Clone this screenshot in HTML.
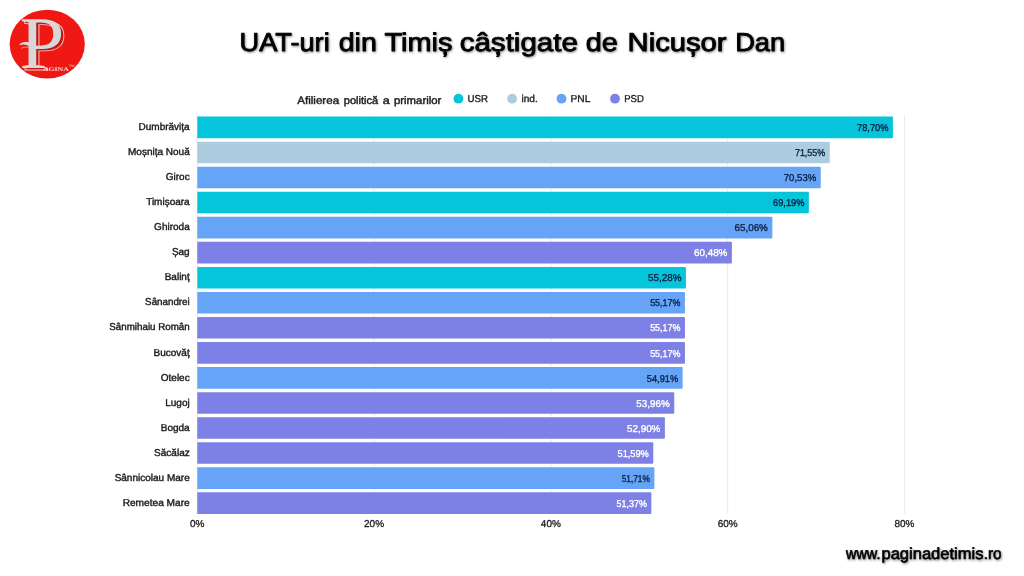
<!DOCTYPE html>
<html lang="ro">
<head>
<meta charset="utf-8">
<title>UAT-uri din Timiș câștigate de Nicușor Dan</title>
<style>
html,body{margin:0;padding:0;background:#fff;}
body{width:1024px;height:576px;overflow:hidden;font-family:"Liberation Sans",sans-serif;}
svg{display:block;}
text{font-family:"Liberation Sans",sans-serif;text-rendering:geometricPrecision;}
.title{font-size:25.8px;fill:#000;stroke:#000;stroke-width:0.85px;stroke-linejoin:round;stroke-linecap:round;}
.lt{font-size:10.8px;fill:#1c1c1c;stroke:#1c1c1c;stroke-width:0.45px;stroke-linejoin:round;}
.lg{font-size:10px;fill:#1c1c1c;stroke:#1c1c1c;stroke-width:0.35px;}
.lab{font-size:10px;fill:#1b1b1b;stroke:#1b1b1b;stroke-width:0.4px;text-anchor:end;}
.val{font-size:9.9px;text-anchor:end;stroke-width:0.35px;}
.vd{fill:#0c2245;stroke:#0c2245;}
.vw{fill:#fff;stroke:#fff;}
.ax{font-size:10px;fill:#1b1b1b;stroke:#1b1b1b;stroke-width:0.3px;text-anchor:middle;}
.foot{font-size:16.3px;fill:#000;stroke:#000;stroke-width:0.65px;stroke-linejoin:round;}
.serif{font-family:"Liberation Serif",serif;}
</style>
</head>
<body>
<svg width="1024" height="576" viewBox="0 0 1024 576">
<defs>
<filter id="sh" x="-5%" y="-30%" width="110%" height="170%"><feDropShadow dx="0.8" dy="1" stdDeviation="1" flood-color="#000" flood-opacity="0.45"/></filter>
<filter id="sh2" x="-5%" y="-30%" width="110%" height="170%"><feDropShadow dx="0.8" dy="1.1" stdDeviation="0.9" flood-color="#000" flood-opacity="0.5"/></filter>
</defs>
<rect width="1024" height="576" fill="#fff"/>
<g id="logo">
<ellipse cx="47.25" cy="44.1" rx="37.6" ry="34.4" fill="#f01812"/>
<path d="M30.4 47.9C26.6 46.6 23.4 46.9 21 48.4" fill="none" stroke="#f2c2c2" stroke-width="0.7"/>
<text class="serif" x="0" y="0" transform="translate(22.2 70.1) scale(1.085 1)" font-size="74.3" fill="#c91414" stroke="#f2c2c2" stroke-width="0.85">P</text>
<path d="M29 42.4C24.6 41.3 21.2 42 18.8 45.2C21.6 44.1 24.8 44.3 29 45.9Z" fill="#dedede"/>
<text class="serif" x="0" y="0" transform="translate(19.4 67.7) scale(1.085 1)" font-size="74.3" fill="#d8d8d8">P</text>
<text class="serif" x="43" y="70.75" font-size="5.7" font-weight="bold" fill="#f6dcdc" textLength="25.8" lengthAdjust="spacingAndGlyphs">AGINA</text>
<text class="serif" x="68.9" y="66.6" font-size="3.4" font-weight="bold" fill="#f3b0a8">TM</text>
</g>
<text class="title" y="51.0" filter="url(#sh)"><tspan x="239.60" textLength="90.10" lengthAdjust="spacingAndGlyphs">UAT-uri</tspan> <tspan x="338.70" textLength="38.20" lengthAdjust="spacingAndGlyphs">din</tspan> <tspan x="384.50" textLength="67.80" lengthAdjust="spacingAndGlyphs">Timiș</tspan> <tspan x="459.70" textLength="118.20" lengthAdjust="spacingAndGlyphs">câștigate</tspan> <tspan x="585.70" textLength="32.10" lengthAdjust="spacingAndGlyphs">de</tspan> <tspan x="627.60" textLength="99.00" lengthAdjust="spacingAndGlyphs">Nicușor</tspan> <tspan x="735.20" textLength="50.00" lengthAdjust="spacingAndGlyphs">Dan</tspan></text>
<text class="lt" y="104.0"><tspan x="297.25" textLength="41.85" lengthAdjust="spacingAndGlyphs">Afilierea</tspan> <tspan x="343.75" textLength="34.35" lengthAdjust="spacingAndGlyphs">politică</tspan> <tspan x="382.75" textLength="7.00" lengthAdjust="spacingAndGlyphs">a</tspan> <tspan x="394.00" textLength="47.30" lengthAdjust="spacingAndGlyphs">primarilor</tspan></text>
<circle cx="458.4" cy="98.7" r="4.9" fill="#06c5da"/><text class="lg" x="467.6" y="102.3" textLength="20.5" lengthAdjust="spacingAndGlyphs">USR</text>
<circle cx="512.1" cy="98.7" r="4.9" fill="#accde0"/><text class="lg" x="521.4" y="102.3" textLength="16.3" lengthAdjust="spacingAndGlyphs">ind.</text>
<circle cx="561.5" cy="98.7" r="4.9" fill="#66a4f7"/><text class="lg" x="570.5" y="102.3" textLength="19.8" lengthAdjust="spacingAndGlyphs">PNL</text>
<circle cx="615.0" cy="98.7" r="4.9" fill="#7d80e4"/><text class="lg" x="624.2" y="102.3" textLength="19.6" lengthAdjust="spacingAndGlyphs">PSD</text>
<rect x="196.80" y="115.5" width="1" height="398" fill="#e9e9e9"/>
<rect x="373.58" y="115.5" width="1" height="398" fill="#e9e9e9"/>
<rect x="550.36" y="115.5" width="1" height="398" fill="#e9e9e9"/>
<rect x="727.14" y="115.5" width="1" height="398" fill="#e9e9e9"/>
<rect x="903.92" y="115.5" width="1" height="398" fill="#e9e9e9"/>
<path d="M197.30 116.60H891.93Q892.93 116.60 892.93 117.60V137.20Q892.93 138.20 891.93 138.20H197.30Z" fill="#06c5da"/>
<text class="lab" x="189.7" y="129.95" textLength="51.14" lengthAdjust="spacingAndGlyphs">Dumbrăvița</text>
<text class="val vd" x="888.43" y="131.05" textLength="31.4" lengthAdjust="spacingAndGlyphs">78,70%</text>
<path d="M197.30 141.65H828.73Q829.73 141.65 829.73 142.65V162.25Q829.73 163.25 828.73 163.25H197.30Z" fill="#accde0"/>
<text class="lab" x="189.7" y="155.02" textLength="61.70" lengthAdjust="spacingAndGlyphs">Moșnița Nouă</text>
<text class="val vd" x="825.23" y="156.10" textLength="30.3" lengthAdjust="spacingAndGlyphs">71,55%</text>
<path d="M197.30 166.70H819.71Q820.71 166.70 820.71 167.70V187.30Q820.71 188.30 819.71 188.30H197.30Z" fill="#66a4f7"/>
<text class="lab" x="189.7" y="180.08" textLength="23.91" lengthAdjust="spacingAndGlyphs">Giroc</text>
<text class="val vd" x="816.21" y="181.15" textLength="32.4" lengthAdjust="spacingAndGlyphs">70,53%</text>
<path d="M197.30 191.75H807.87Q808.87 191.75 808.87 192.75V212.35Q808.87 213.35 807.87 213.35H197.30Z" fill="#06c5da"/>
<text class="lab" x="189.7" y="205.15" textLength="43.53" lengthAdjust="spacingAndGlyphs">Timișoara</text>
<text class="val vd" x="804.37" y="206.20" textLength="31.3" lengthAdjust="spacingAndGlyphs">69,19%</text>
<path d="M197.30 216.80H771.37Q772.37 216.80 772.37 217.80V237.40Q772.37 238.40 771.37 238.40H197.30Z" fill="#66a4f7"/>
<text class="lab" x="189.7" y="230.21" textLength="35.58" lengthAdjust="spacingAndGlyphs">Ghiroda</text>
<text class="val vd" x="767.87" y="231.25" textLength="33.4" lengthAdjust="spacingAndGlyphs">65,06%</text>
<path d="M197.30 241.85H730.88Q731.88 241.85 731.88 242.85V262.45Q731.88 263.45 730.88 263.45H197.30Z" fill="#7d80e4"/>
<text class="lab" x="189.7" y="255.28" textLength="17.80" lengthAdjust="spacingAndGlyphs">Șag</text>
<text class="val vw" x="727.38" y="256.30" textLength="33.4" lengthAdjust="spacingAndGlyphs">60,48%</text>
<path d="M197.30 266.90H684.92Q685.92 266.90 685.92 267.90V287.50Q685.92 288.50 684.92 288.50H197.30Z" fill="#06c5da"/>
<text class="lab" x="189.7" y="280.34" textLength="25.02" lengthAdjust="spacingAndGlyphs">Balinț</text>
<text class="val vd" x="681.42" y="281.35" textLength="33.4" lengthAdjust="spacingAndGlyphs">55,28%</text>
<path d="M197.30 291.95H683.95Q684.95 291.95 684.95 292.95V312.55Q684.95 313.55 683.95 313.55H197.30Z" fill="#66a4f7"/>
<text class="lab" x="189.7" y="305.41" textLength="44.59" lengthAdjust="spacingAndGlyphs">Sânandrei</text>
<text class="val vd" x="680.45" y="306.40" textLength="30.3" lengthAdjust="spacingAndGlyphs">55,17%</text>
<path d="M197.30 317.00H683.95Q684.95 317.00 684.95 318.00V337.60Q684.95 338.60 683.95 338.60H197.30Z" fill="#7d80e4"/>
<text class="lab" x="189.7" y="330.47" textLength="80.37" lengthAdjust="spacingAndGlyphs">Sânmihaiu Român</text>
<text class="val vw" x="680.45" y="331.45" textLength="30.3" lengthAdjust="spacingAndGlyphs">55,17%</text>
<path d="M197.30 342.05H683.95Q684.95 342.05 684.95 343.05V362.65Q684.95 363.65 683.95 363.65H197.30Z" fill="#7d80e4"/>
<text class="lab" x="189.7" y="355.54" textLength="36.14" lengthAdjust="spacingAndGlyphs">Bucovăț</text>
<text class="val vw" x="680.45" y="356.50" textLength="30.3" lengthAdjust="spacingAndGlyphs">55,17%</text>
<path d="M197.30 367.10H681.65Q682.65 367.10 682.65 368.10V387.70Q682.65 388.70 681.65 388.70H197.30Z" fill="#66a4f7"/>
<text class="lab" x="189.7" y="380.60" textLength="28.91" lengthAdjust="spacingAndGlyphs">Otelec</text>
<text class="val vd" x="678.15" y="381.55" textLength="31.3" lengthAdjust="spacingAndGlyphs">54,91%</text>
<path d="M197.30 392.15H673.25Q674.25 392.15 674.25 393.15V412.75Q674.25 413.75 673.25 413.75H197.30Z" fill="#7d80e4"/>
<text class="lab" x="189.7" y="405.67" textLength="24.47" lengthAdjust="spacingAndGlyphs">Lugoj</text>
<text class="val vw" x="669.75" y="406.60" textLength="33.4" lengthAdjust="spacingAndGlyphs">53,96%</text>
<path d="M197.30 417.20H663.88Q664.88 417.20 664.88 418.20V437.80Q664.88 438.80 663.88 438.80H197.30Z" fill="#7d80e4"/>
<text class="lab" x="189.7" y="430.73" textLength="28.92" lengthAdjust="spacingAndGlyphs">Bogda</text>
<text class="val vw" x="660.38" y="431.65" textLength="33.4" lengthAdjust="spacingAndGlyphs">52,90%</text>
<path d="M197.30 442.25H652.30Q653.30 442.25 653.30 443.25V462.85Q653.30 463.85 652.30 463.85H197.30Z" fill="#7d80e4"/>
<text class="lab" x="189.7" y="455.80" textLength="35.58" lengthAdjust="spacingAndGlyphs">Săcălaz</text>
<text class="val vw" x="648.80" y="456.70" textLength="31.3" lengthAdjust="spacingAndGlyphs">51,59%</text>
<path d="M197.30 467.30H653.36Q654.36 467.30 654.36 468.30V487.90Q654.36 488.90 653.36 488.90H197.30Z" fill="#66a4f7"/>
<text class="lab" x="189.7" y="480.86" textLength="75.05" lengthAdjust="spacingAndGlyphs">Sânnicolau Mare</text>
<text class="val vd" x="649.86" y="481.75" textLength="28.2" lengthAdjust="spacingAndGlyphs">51,71%</text>
<path d="M197.30 492.35H650.36Q651.36 492.35 651.36 493.35V512.95Q651.36 513.95 650.36 513.95H197.30Z" fill="#7d80e4"/>
<text class="lab" x="189.7" y="505.93" textLength="67.04" lengthAdjust="spacingAndGlyphs">Remetea Mare</text>
<text class="val vw" x="646.86" y="506.80" textLength="30.3" lengthAdjust="spacingAndGlyphs">51,37%</text>
<text class="ax" x="197.30" y="527.3">0%</text>
<text class="ax" x="374.08" y="527.3">20%</text>
<text class="ax" x="550.86" y="527.3">40%</text>
<text class="ax" x="727.64" y="527.3">60%</text>
<text class="ax" x="904.42" y="527.3">80%</text>
<text class="foot" y="559.2" filter="url(#sh2)"><tspan x="846.00" textLength="34.40" lengthAdjust="spacingAndGlyphs">www.</tspan><tspan x="881.50" textLength="101.90" lengthAdjust="spacingAndGlyphs">paginadetimis</tspan><tspan x="983.80" textLength="17.80" lengthAdjust="spacingAndGlyphs">.ro</tspan></text>
</svg>
</body>
</html>
